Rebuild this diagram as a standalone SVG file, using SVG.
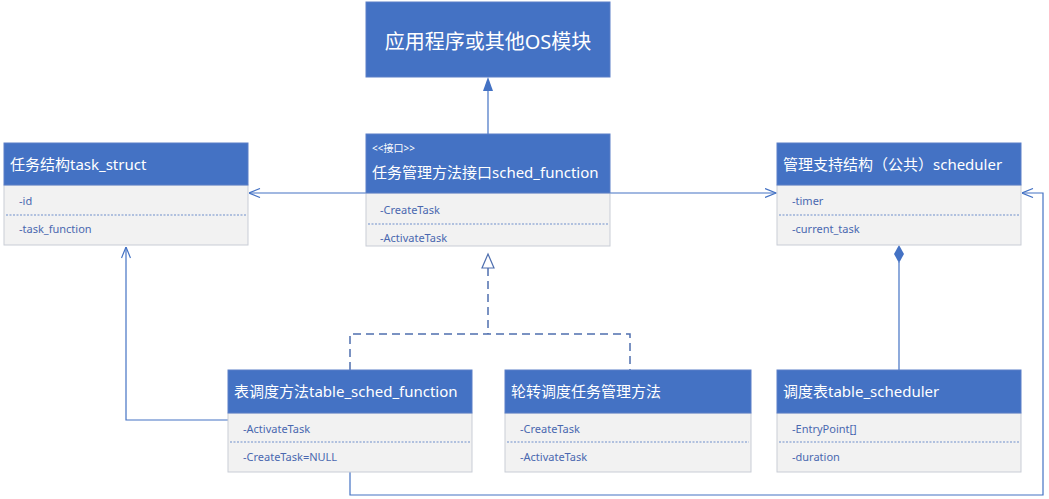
<svg xmlns="http://www.w3.org/2000/svg" width="1049" height="499" viewBox="0 0 1049 499">
<defs>
<style>
.hd{fill:#4472C4;stroke:#5B7FC7;stroke-width:1}
.bd{fill:#F2F2F2;stroke:#C9CDD6;stroke-width:1}
.sep{stroke:#6F8FCB;stroke-width:1;stroke-dasharray:2,1.5}
.t{font-family:"Noto Sans","Noto Sans CJK SC",sans-serif;fill:#FFFFFF;font-size:15px}
.s{font-family:"Noto Sans","Noto Sans CJK SC",sans-serif;fill:#FFFFFF;font-size:10px}
.a{font-family:"Noto Sans","Noto Sans CJK SC",sans-serif;fill:#4A68B0;font-size:11px}
.ln{fill:none;stroke:#4472C4;stroke-width:1.2}
.dl{fill:none;stroke:#4F6FAF;stroke-width:1.5;stroke-dasharray:8,5}
</style>
<marker id="open" viewBox="0 0 12 10" refX="11.5" refY="5" markerWidth="12" markerHeight="10" markerUnits="userSpaceOnUse" orient="auto">
<path d="M0.5,0.5 L11.5,5 L0.5,9.5" fill="none" stroke="#4472C4" stroke-width="1.2"/>
</marker>
</defs>

<g id="connectors">
<line class="ln" x1="488" y1="134" x2="488" y2="90"/>
<path d="M488,77 L493,91 L483,91 Z" fill="#4472C4"/>
<line class="ln" x1="366" y1="193" x2="249" y2="193" marker-end="url(#open)"/>
<line class="ln" x1="610" y1="193" x2="776" y2="193" marker-end="url(#open)"/>
<path class="dl" d="M488,268 L488,334 M350,370 L350,334 L630,334 L630,370"/>
<path d="M488,254 L494,268 L482,268 Z" fill="#FFFFFF" stroke="#4F6FAF" stroke-width="1.2"/>
<path class="ln" d="M228,420 L126,420 L126,247" marker-end="url(#open)"/>
<line class="ln" x1="899" y1="262" x2="899" y2="370"/>
<path d="M899,245 L904,254 L899,263 L894,254 Z" fill="#4472C4"/>
<path class="ln" d="M350,472 L350,495 L1043,495 L1043,193 L1022,193" marker-end="url(#open)"/>
</g>

<g id="app">
<rect class="hd" x="366" y="2" width="244" height="75"/>
<text x="488" y="49" text-anchor="middle" style="font-family:'Noto Sans','Noto Sans CJK SC',sans-serif;font-size:20px;fill:#fff">应用程序或其他OS模块</text>
</g>

<g id="task_struct">
<rect class="bd" x="4" y="185" width="244" height="60"/>
<rect class="hd" x="4" y="143" width="244" height="42"/>
<text class="t" x="10" y="170">任务结构task_struct</text>
<text class="a" x="19" y="205">-id</text>
<line class="sep" x1="6" y1="215" x2="246" y2="215"/>
<text class="a" x="19" y="233">-task_function</text>
</g>

<g id="sched_function">
<rect class="bd" x="366" y="193" width="244" height="53"/>
<rect class="hd" x="366" y="134" width="244" height="59"/>
<text class="s" x="372" y="152">&lt;&lt;接口&gt;&gt;</text>
<text class="t" x="372" y="178">任务管理方法接口sched_function</text>
<text class="a" x="380" y="214">-CreateTask</text>
<line class="sep" x1="368" y1="224" x2="608" y2="224"/>
<text class="a" x="380" y="242">-ActivateTask</text>
</g>

<g id="scheduler">
<rect class="bd" x="777" y="185" width="244" height="60"/>
<rect class="hd" x="777" y="143" width="244" height="42"/>
<text class="t" x="783" y="170">管理支持结构（公共）scheduler</text>
<text class="a" x="792" y="205">-timer</text>
<line class="sep" x1="779" y1="215" x2="1019" y2="215"/>
<text class="a" x="792" y="233">-current_task</text>
</g>

<g id="table_sched_function">
<rect class="bd" x="228" y="413" width="244" height="59"/>
<rect class="hd" x="228" y="370" width="244" height="43"/>
<text class="t" x="234" y="397">表调度方法table_sched_function</text>
<text class="a" x="243" y="433">-ActivateTask</text>
<line class="sep" x1="230" y1="442" x2="470" y2="442"/>
<text class="a" x="243" y="461">-CreateTask=NULL</text>
</g>

<g id="round_robin">
<rect class="bd" x="505" y="413" width="246" height="59"/>
<rect class="hd" x="505" y="370" width="246" height="43"/>
<text class="t" x="511" y="397">轮转调度任务管理方法</text>
<text class="a" x="520" y="433">-CreateTask</text>
<line class="sep" x1="507" y1="442" x2="749" y2="442"/>
<text class="a" x="520" y="461">-ActivateTask</text>
</g>

<g id="table_scheduler">
<rect class="bd" x="777" y="413" width="244" height="59"/>
<rect class="hd" x="777" y="370" width="244" height="43"/>
<text class="t" x="783" y="397">调度表table_scheduler</text>
<text class="a" x="792" y="433">-EntryPoint[]</text>
<line class="sep" x1="779" y1="442" x2="1019" y2="442"/>
<text class="a" x="792" y="461">-duration</text>
</g>
</svg>
